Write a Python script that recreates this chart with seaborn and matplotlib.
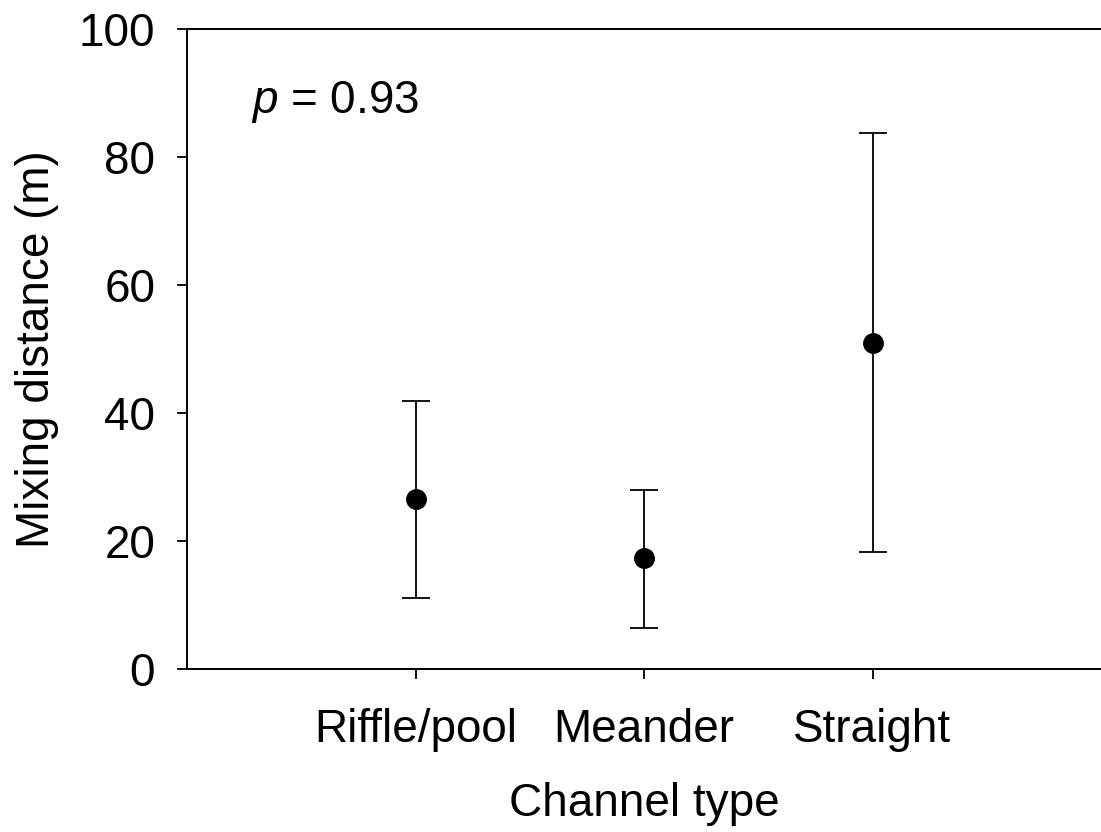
import numpy as np
import pandas as pd
import matplotlib
matplotlib.use("Agg")
import matplotlib.pyplot as plt
import seaborn as sns

# Datos
canales = ["Riffle/pool", "Meander", "Straight"]
media = [26.5, 17.3, 51.0]
limite_sup = [41.8, 27.9, 83.8]
limite_inf = [11.1, 6.4, 18.2]
p_valor = "0.93"

df = pd.DataFrame({"canal": canales, "media": media})

sns.set_style("ticks")
plt.rcParams["font.family"] = ["Liberation Sans", "DejaVu Sans"]
plt.rcParams["mathtext.fontset"] = "custom"
plt.rcParams["mathtext.it"] = "Liberation Sans:italic"
plt.rcParams["mathtext.rm"] = "Liberation Sans"
plt.rcParams["text.color"] = "black"
plt.rcParams["axes.labelcolor"] = "black"
plt.rcParams["xtick.color"] = "black"
plt.rcParams["ytick.color"] = "black"

fig = plt.figure(figsize=(11.01, 8.32), dpi=100)
ax = fig.add_axes([0.170, 0.196, 0.830, 0.769])

# Barras de error asimetricas
x = np.arange(len(canales))
err = [np.array(media) - np.array(limite_inf), np.array(limite_sup) - np.array(media)]
ax.errorbar(x, media, yerr=err, fmt="none", ecolor="black", elinewidth=1.3,
            capsize=10, capthick=1.3, zorder=2)

sns.pointplot(data=df, x="canal", y="media", color="black", linestyle="none",
              marker="o", markersize=13, errorbar=None, ax=ax, zorder=3)

ax.set_xlim(-1, 3)
ax.set_ylim(0, 100)
ax.set_yticks([0, 20, 40, 60, 80, 100])
ax.set_xlabel("Channel type", fontsize=33, labelpad=22)
ax.set_ylabel("Mixing distance (m)", fontsize=33, labelpad=14)
ax.tick_params(axis="both", labelsize=33, width=1.3, length=7, direction="out",
               colors="black")
ax.tick_params(axis="y", pad=16)
ax.tick_params(axis="x", length=7, pad=21)

for lado in ["left", "top", "bottom"]:
    ax.spines[lado].set_linewidth(1.4)
    ax.spines[lado].set_color("black")
ax.spines["right"].set_visible(False)

ax.text(0.07, 0.869, r"$\mathit{p}$ = " + p_valor, transform=ax.transAxes,
        fontsize=33, ha="left", va="baseline")

plt.savefig("out.png", dpi=100)
